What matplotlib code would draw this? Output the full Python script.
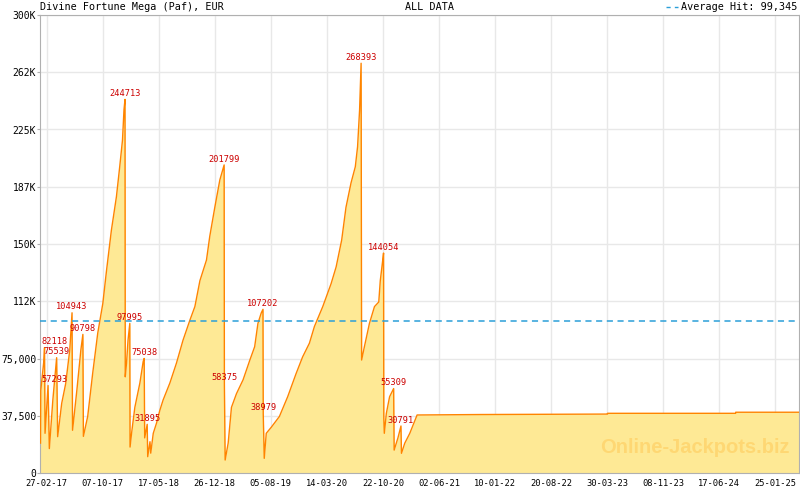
import numpy as np
import pandas as pd
import matplotlib
matplotlib.use("Agg")
import matplotlib.pyplot as plt
import matplotlib.dates as mdates
from matplotlib.lines import Line2D
from matplotlib.ticker import FuncFormatter

title = "Divine Fortune Mega (Paf), EUR"
subtitle = "ALL DATA"
avg_hit = 99345

# jackpot level over time
dates = [
    "2017-02-03", "2017-02-04", "2017-02-16", "2017-02-19", "2017-02-21", "2017-03-05",
    "2017-03-10", "2017-03-24", "2017-04-08", "2017-04-12", "2017-04-28", "2017-05-14",
    "2017-05-30", "2017-06-08", "2017-06-10", "2017-06-27", "2017-07-13", "2017-07-21",
    "2017-07-23", "2017-08-09", "2017-08-29", "2017-09-18", "2017-10-08", "2017-10-23",
    "2017-11-11", "2017-12-01", "2017-12-14", "2017-12-25", "2017-12-31", "2018-01-04",
    "2018-01-05", "2018-01-10", "2018-01-16", "2018-01-23", "2018-01-24", "2018-01-30",
    "2018-02-12", "2018-03-04", "2018-03-17", "2018-03-21", "2018-03-23", "2018-04-02",
    "2018-04-04", "2018-04-13", "2018-04-16", "2018-04-26", "2018-05-09", "2018-05-22",
    "2018-06-04", "2018-07-01", "2018-07-27", "2018-08-22", "2018-09-18", "2018-10-08",
    "2018-10-28", "2018-11-23", "2018-12-06", "2018-12-26", "2019-01-15", "2019-02-01",
    "2019-02-02", "2019-02-05", "2019-02-17", "2019-03-02", "2019-03-22", "2019-04-17",
    "2019-05-14", "2019-06-02", "2019-06-15", "2019-06-28", "2019-07-05", "2019-07-06",
    "2019-07-10", "2019-07-18", "2019-08-07", "2019-09-08", "2019-10-11", "2019-11-13",
    "2019-12-09", "2020-01-05", "2020-01-25", "2020-02-27", "2020-03-31", "2020-04-20",
    "2020-05-12", "2020-05-29", "2020-06-18", "2020-07-05", "2020-07-14", "2020-07-22",
    "2020-07-28", "2020-07-30", "2020-08-10", "2020-08-30", "2020-09-19", "2020-10-06",
    "2020-10-12", "2020-10-20", "2020-10-25", "2020-10-26", "2020-10-28", "2020-11-05",
    "2020-11-18", "2020-12-04", "2020-12-06", "2020-12-21", "2021-01-02", "2021-01-04",
    "2021-01-17", "2021-02-06", "2021-03-07", "2021-11-10", "2021-11-10", "2023-04-01",
    "2023-04-01", "2024-08-21", "2024-08-21", "2025-04-28",
]
values = [
    19600, 54000, 73000, 82118, 26000, 57293,
    16000, 48000, 75539, 23800, 45600, 58700,
    80600, 104943, 28000, 54000, 80600, 90798,
    24000, 37000, 65500, 91700, 111000, 133000,
    159000, 181000, 200600, 218000, 238000, 244713,
    63000, 72000, 87000, 97995, 17000, 26000,
    43000, 59000, 73000, 75038, 23000, 31895,
    10700, 20500, 13000, 26000, 32700, 41000,
    47800, 59000, 72000, 87000, 100000, 109000,
    126000, 139500, 155000, 174000, 192000, 201799,
    58375, 8500, 19600, 43000, 52000, 61000,
    74000, 82700, 98000, 104800, 107202, 38979,
    9600, 26000, 30000, 37000, 50000, 65000,
    76000, 85000, 96000, 109000, 124000, 135000,
    152600, 174000, 190000, 200600, 213700, 237800,
    268393, 74000, 82700, 98000, 109000, 112000,
    126000, 137000, 144054, 36000, 26000, 39000,
    50000, 55309, 15000, 23000, 30791, 12900,
    19500, 26000, 38000, 38300, 38300, 38600,
    39100, 39100, 39800, 39800,
]

# labelled hits
hit_dates = ["2017-02-19", "2017-03-05", "2017-04-08", "2017-06-08", "2017-07-21",
             "2018-01-04", "2018-01-23", "2018-03-21", "2018-04-02", "2019-02-01",
             "2019-02-02", "2019-07-05", "2019-07-06", "2020-07-28", "2020-10-25",
             "2020-12-04", "2021-01-02"]
hit_values = [82118, 57293, 75539, 104943, 90798, 244713, 97995, 75038, 31895, 201799,
              58375, 107202, 38979, 268393, 144054, 55309, 30791]

y_ticks = [0, 37500, 75000, 112500, 150000, 187500, 225000, 262500, 300000]
y_labels = ["0", "37,500", "75,000", "112K", "150K", "187K", "225K", "262K", "300K"]

x_tick_first = "2017-02-27"
x_tick_last = "2025-01-25"
n_x_ticks = 14
x_range = ["2017-02-01", "2025-04-29"]

mono = "DejaVu Sans Mono"
line_col = "#ff8400"
fill_col = "#fee995"
grey = "#b0b0b0"

fig = plt.figure(figsize=(8, 4.9), dpi=100)
ax = fig.add_axes([40 / 800, 17 / 490, 759 / 800, 458 / 490])

x = mdates.date2num(pd.to_datetime(dates))
ax.fill_between(x, values, 0, color=fill_col, lw=0, zorder=1)
ax.plot(x, values, color=line_col, lw=1.0, zorder=3)
ax.axhline(avg_hit, color="#2b9fd8", lw=1.1, ls=(0, (4, 3)), zorder=4)

lo, hi = mdates.date2num(pd.to_datetime(x_range))
t0, t1 = mdates.date2num(pd.to_datetime([x_tick_first, x_tick_last]))
majors = np.linspace(t0, t1, n_x_ticks)
step = (t1 - t0) / (n_x_ticks - 1)
minors = t0 + step / 7 * np.arange(-1, 7 * n_x_ticks + 1)
minors = minors[(minors >= lo) & (minors <= hi)]
ax.set_xticks(majors)
ax.set_xticks(minors, minor=True)
ax.xaxis.set_major_formatter(FuncFormatter(
    lambda v, pos: mdates.num2date(round(v)).strftime("%d-%m-%y")))
ax.set_yticks(y_ticks)
ax.set_yticklabels(y_labels)
ax.set_xlim(lo, hi)
ax.set_ylim(0, 300000)

ax.grid(True, which="major", color="#e8e8e8", lw=1, zorder=0)
ax.set_axisbelow(True)
for s in ax.spines.values():
    s.set_color(grey)
ax.tick_params(axis="x", which="major", direction="in", length=5, color=grey,
               labelsize=6.3, pad=4)
ax.tick_params(axis="x", which="minor", direction="in", length=3, color=grey)
ax.tick_params(axis="y", direction="out", length=2, color=grey, labelsize=7.0, pad=0.8)
for lab in ax.get_xticklabels() + ax.get_yticklabels():
    lab.set_family(mono)

anns = []
for d, v in zip(hit_dates, hit_values):
    a = ax.annotate(str(v), (mdates.date2num(pd.to_datetime(d)), v), xytext=(0, 1),
                    textcoords="offset points", ha="center", va="bottom", color="#cc0000",
                    fontsize=6.2, family=mono, zorder=5)
    anns.append(a)

fig.text(40 / 800, 1 - 7 / 490, title, family=mono, fontsize=7.3, va="center", ha="left")
fig.text(405 / 800, 1 - 7 / 490, subtitle, family=mono, fontsize=7.3, va="center", ha="left")
avg_txt = fig.text(797 / 800, 1 - 7 / 490, "Average Hit: {:,}".format(avg_hit), family=mono,
                   fontsize=7.3, va="center", ha="right")

ax.text(0.987, 0.035, "Online-Jackpots.biz", transform=ax.transAxes, ha="right", va="bottom",
        fontsize=14.5, fontweight="bold", family="Liberation Sans", color="#ffc24a",
        alpha=0.45, zorder=2)

# keep hit labels inside the plot area, and place the legend dashes
fig.canvas.draw()
r = fig.canvas.get_renderer()
ax_left = ax.get_window_extent(r).x0
for a in anns:
    bb = a.get_window_extent(r)
    if bb.x0 < ax_left + 1:
        px = ax.transData.transform(a.xy)[0]
        a.set_ha("left")
        a.xyann = ((ax_left + 1 - px) * 72 / fig.dpi, 1)

tb = avg_txt.get_window_extent(r)
x1 = (tb.x0 - 3) / 800
y_mid = 1 - 7 / 490
fig.add_artist(Line2D([x1 - 12 / 800, x1], [y_mid, y_mid], color="#2b9fd8", lw=1,
                      ls=(0, (3, 3)), transform=fig.transFigure))

fig.savefig("out.png", dpi=100)
